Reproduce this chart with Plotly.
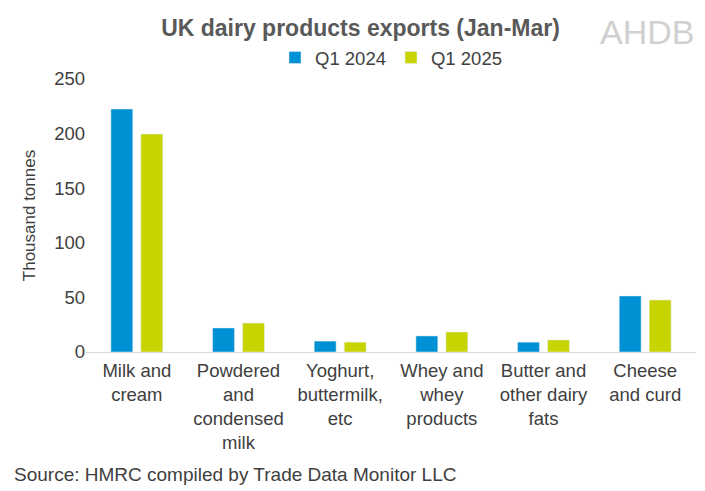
import plotly.graph_objects as go

categories = ["Milk and<br>cream", "Powdered<br>and<br>condensed<br>milk", "Yoghurt,<br>buttermilk,<br>etc",
              "Whey and<br>whey<br>products", "Butter and<br>other dairy<br>fats", "Cheese<br>and curd"]
q1_2024 = [222.5, 22, 10, 14.7, 9, 51.3]
q1_2025 = [199.6, 26.5, 9, 18.3, 11, 47.6]

fig = go.Figure()
fig.add_bar(x=categories, y=q1_2024, name="Q1 2024", marker_color="#0090D4")
fig.add_bar(x=categories, y=q1_2025, name="Q1 2025", marker_color="#C8D400")

fig.update_layout(
    width=705, height=491,
    paper_bgcolor="white", plot_bgcolor="white",
    font=dict(family="Liberation Sans, Arial", size=18.5, color="#404040"),
    title=dict(text="<b>UK dairy products exports (Jan-Mar)</b>", x=0.5, xanchor="center",
               y=0.96, yanchor="middle", yref="container",
               font=dict(size=23, color="#595959")),
    showlegend=True,
    legend=dict(orientation="h", x=0.5, xanchor="center", y=1.077, yanchor="middle",
                font=dict(size=18.5), traceorder="normal"),
    margin=dict(l=78, r=17, t=71, b=147, autoexpand=False),
    bargap=0.41, bargroupgap=0.27,
    yaxis=dict(range=[0, 250], dtick=50, showgrid=False, showline=False, ticks="",
               title=dict(text="Thousand tonnes", font=dict(size=17), standoff=14), zeroline=False),
    xaxis=dict(showline=True, linecolor="#D9D9D9", linewidth=1, ticks="", ticklabelstandoff=2),
    annotations=[
        dict(text="Source: HMRC compiled by Trade Data Monitor LLC", x=-0.121, y=-0.447,
             xref="paper", yref="paper", xanchor="left", yanchor="middle", showarrow=False,
             font=dict(size=19, color="#404040")),
        dict(text="AHDB", x=1.0, y=1.25, xref="paper", yref="paper",
             xanchor="right", yanchor="top", showarrow=False,
             font=dict(size=34, color="#D0D0D0")),
    ],
)
fig.write_html("out.html")
